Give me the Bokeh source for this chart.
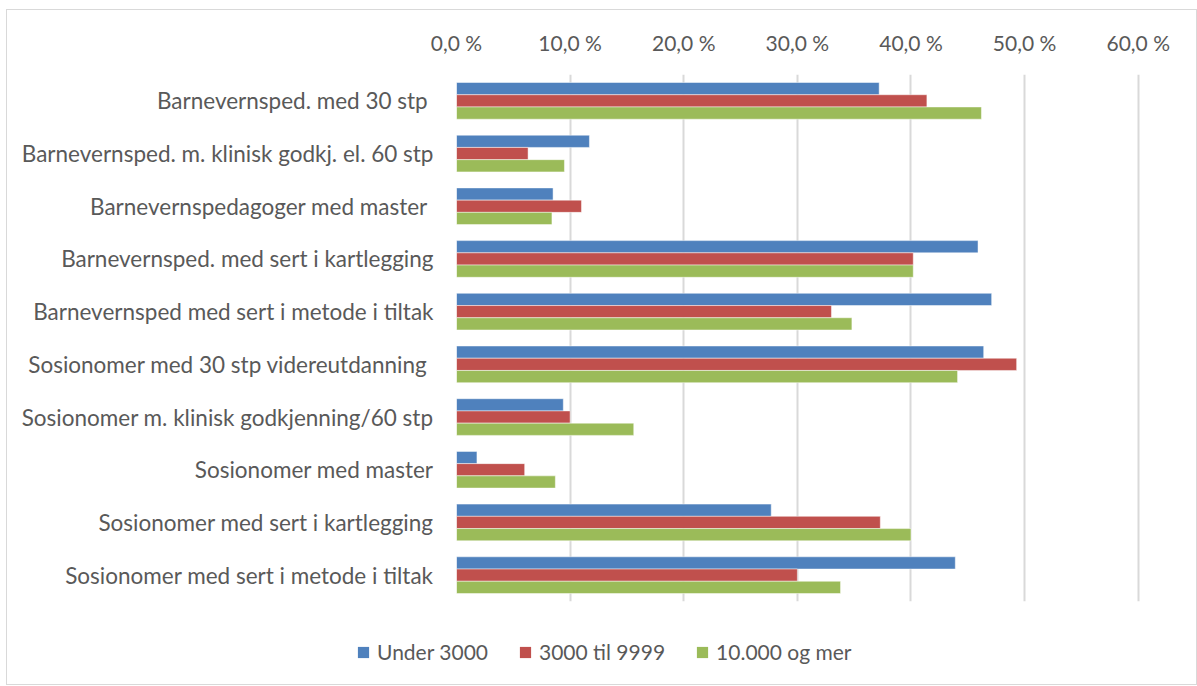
from bokeh.plotting import figure
from bokeh.models import FactorRange, Range1d, FixedTicker, Legend, LegendItem, ColumnDataSource
from bokeh.layouts import column
from bokeh.transform import dodge
from bokeh.embed import file_html
from bokeh.resources import INLINE

categories = [
    "Barnevernsped. med 30 stp ",
    "Barnevernsped. m. klinisk godkj. el. 60 stp",
    "Barnevernspedagoger med master ",
    "Barnevernsped. med sert i kartlegging",
    "Barnevernsped med sert i metode i tiltak",
    "Sosionomer med 30 stp videreutdanning ",
    "Sosionomer m. klinisk godkjenning/60 stp",
    "Sosionomer med master",
    "Sosionomer med sert i kartlegging",
    "Sosionomer med sert i metode i tiltak",
]
series_names = ["Under 3000", "3000 til 9999", "10.000 og mer"]
under_3000 = [37.2, 11.7, 8.5, 45.9, 47.1, 46.4, 9.4, 1.8, 27.7, 43.9]
fra_3000_til_9999 = [41.4, 6.3, 11.0, 40.2, 33.0, 49.3, 10.0, 6.0, 37.3, 30.0]
over_10000 = [46.2, 9.5, 8.4, 40.2, 34.8, 44.1, 15.6, 8.7, 40.0, 33.8]
tick_values = [0, 10, 20, 30, 40, 50, 60]
tick_labels = ["0,0 %", "10,0 %", "20,0 %", "30,0 %", "40,0 %", "50,0 %", "60,0 %"]

colors = ["#4F81BD", "#C0504D", "#9BBB59"]
FONT = "Lato"
TXT = "#595959"
FS = "21px"

src = ColumnDataSource(dict(cat=categories, s0=under_3000, s1=fra_3000_til_9999, s2=over_10000))

p = figure(width=1189, height=611, output_backend="svg", toolbar_location=None,
           y_range=FactorRange(*reversed(categories)), x_range=Range1d(0, 60.2),
           x_axis_location="above",
           min_border_left=449, min_border_right=56, min_border_top=64, min_border_bottom=20)
p.outline_line_color = None
p.frame_align = False

bh = 0.232
offsets = [bh, 0.0, -bh]
for i, col in enumerate(["s0", "s1", "s2"]):
    p.hbar(y=dodge("cat", offsets[i], range=p.y_range), right=col, left=0, height=bh,
           source=src, fill_color=colors[i], line_color="white", line_alpha=0.6, line_width=0.8)

xa = p.xaxis[0]
xa.ticker = FixedTicker(ticks=tick_values)
xa.major_label_overrides = {v: l for v, l in zip(tick_values, tick_labels)}
xa.axis_line_color = None
xa.major_tick_line_color = None
xa.minor_tick_line_color = None
xa.major_label_text_font = FONT
xa.major_label_text_font_size = FS
xa.major_label_text_color = TXT
xa.major_label_standoff = 14

ya = p.yaxis[0]
ya.axis_line_color = None
ya.major_tick_line_color = None
ya.minor_tick_line_color = None
ya.major_label_text_font = FONT
ya.major_label_text_font_size = "22.5px"
ya.major_label_text_color = TXT
ya.major_label_standoff = 17

p.xgrid.grid_line_color = "#D9D9D9"
p.xgrid.grid_line_width = 2
p.ygrid.grid_line_color = None

# legend strip below the chart (zero-size swatch renderers only feed the legend)
leg = figure(width=1189, height=63, output_backend="svg", toolbar_location=None,
             x_range=Range1d(0, 1), y_range=Range1d(0, 1),
             x_axis_location=None, y_axis_location=None,
             min_border_left=0, min_border_right=0, min_border_top=0, min_border_bottom=0)
leg.outline_line_color = None
leg.grid.grid_line_color = None
leg.frame_align = False
swatches = []
for i in range(3):
    swatches.append(leg.hbar(y=[0], right=[0], left=0, height=0, fill_color=colors[i], line_color=None))

legend = Legend(items=[LegendItem(label=n, renderers=[r]) for n, r in zip(series_names, swatches)],
                orientation="horizontal", location=(349, 20),
                glyph_width=14, glyph_height=14, label_standoff=7, spacing=30,
                padding=0, margin=0, border_line_color=None, background_fill_alpha=0,
                label_text_font=FONT, label_text_font_size=FS, label_text_color=TXT)
leg.add_layout(legend, "center")

layout = column(p, leg, spacing=0)
layout.styles = {"border": "1px solid #D9D9D9", "margin-left": "6px", "margin-top": "9px"}

open("out.html", "w").write(file_html(layout, INLINE))
